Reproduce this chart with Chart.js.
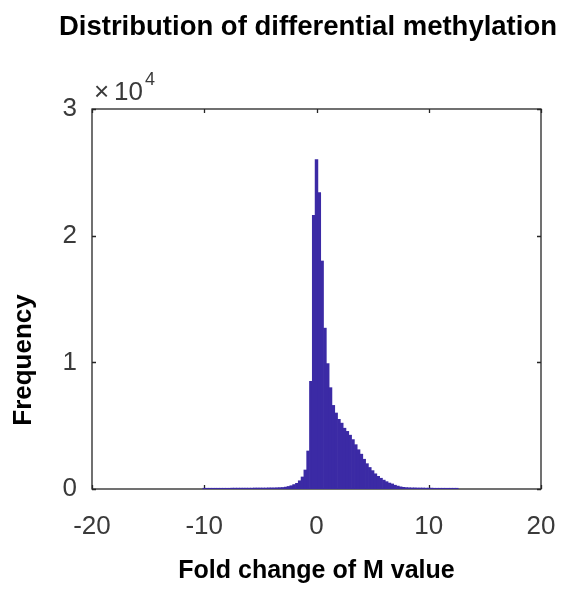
<!DOCTYPE html>
<html>
<head>
<meta charset="utf-8">
<script src="https://cdn.jsdelivr.net/npm/chart.js@4"></script>
<style>
  html, body { margin: 0; padding: 0; background: #fff; }
  #wrap { width: 565px; height: 593px; }
</style>
</head>
<body>
<div id="wrap"><canvas id="c" width="565" height="593"></canvas></div>
<script>
// ---- data ----
const binCenters = [
  -10.00, -9.75, -9.50, -9.25, -9.00, -8.75, -8.50, -8.25, -8.00, -7.75,
  -7.50, -7.25, -7.00, -6.75, -6.50, -6.25, -6.00, -5.75, -5.50, -5.25,
  -5.00, -4.75, -4.50, -4.25, -4.00, -3.75, -3.50, -3.25, -3.00, -2.75,
  -2.50, -2.25, -2.00, -1.75, -1.50, -1.25, -1.00, -0.75, -0.50, -0.25,
   0.00,  0.25,  0.50,  0.75,  1.00,  1.25,  1.50,  1.75,  2.00,  2.25,
   2.50,  2.75,  3.00,  3.25,  3.50,  3.75,  4.00,  4.25,  4.50,  4.75,
   5.00,  5.25,  5.50,  5.75,  6.00,  6.25,  6.50,  6.75,  7.00,  7.25,
   7.50,  7.75,  8.00,  8.25,  8.50,  8.75,  9.00,  9.25,  9.50,  9.75,
  10.00, 10.25, 10.50, 10.75, 11.00, 11.25, 11.50, 11.75, 12.00, 12.25,
  12.50
];
const frequency = [
   60,  60,  60,  60,  60,  60,  60,  60,  60,  60,
   70,  70,  70,  70,  70,  70,  70,  70,  80,  80,
   80,  80,  80,  90,  90,  90, 100, 110, 120, 150,
  200, 260, 350, 450, 650, 950, 1500, 3000, 8500, 21600,
  26000, 23400, 18000, 12700, 9900, 8000, 6600, 6000, 5500, 5200,
  4800, 4550, 4250, 3900, 3500, 3100, 2750, 2350, 2000, 1700,
  1450, 1200, 1000, 850, 700, 580, 470, 400, 300, 230,
  170, 130, 110, 100, 90, 90, 80, 80, 80, 70,
   70,  70,  60,  60,  60,  60,  60,  60,  60,  60,
   60
];
const xTicks = [-20, -10, 0, 10, 20];
const yTicks = [0, 10000, 20000, 30000];
const yTickLabels = ['0', '1', '2', '3'];
const titleText = 'Distribution of differential methylation';
const xLabel = 'Fold change of M value';
const yLabel = 'Frequency';
const exponentBase = '10';
const exponentPower = '4';

// ---- styles ----
const barColor = '#3b2aa5';
const axisColor = '#262626';
const tickColor = '#3a3a3a';
const tickFont = "'Liberation Sans', Arial, sans-serif";
const labelFont = "'Liberation Sans', Arial, sans-serif";

const points = binCenters.map((c, i) => ({ x: c, y: frequency[i] }));

const decor = {
  id: 'decor',
  beforeDatasetsDraw(chart) {
    const { ctx, chartArea: a, scales: { x, y } } = chart;
    ctx.save();
    ctx.strokeStyle = axisColor;
    ctx.lineWidth = 1.3;
    ctx.strokeRect(a.left, a.top, a.right - a.left, a.bottom - a.top);
    ctx.beginPath();
    xTicks.forEach(v => {
      const px = Math.round(x.getPixelForValue(v)) + 0.5;
      ctx.moveTo(px, a.bottom); ctx.lineTo(px, a.bottom - 4);
      ctx.moveTo(px, a.top); ctx.lineTo(px, a.top + 4);
    });
    yTicks.forEach(v => {
      const py = Math.round(y.getPixelForValue(v)) + 0.5;
      ctx.moveTo(a.left, py); ctx.lineTo(a.left + 4, py);
      ctx.moveTo(a.right, py); ctx.lineTo(a.right - 4, py);
    });
    ctx.stroke();
    ctx.restore();
  },
  afterDraw(chart) {
    const { ctx, chartArea: a } = chart;
    ctx.save();
    ctx.fillStyle = tickColor;
    ctx.textBaseline = 'alphabetic';
    ctx.textAlign = 'left';
    ctx.font = '26px ' + tickFont;
    ctx.fillText('\u00d7', a.left + 2, a.top - 9);
    ctx.fillText(exponentBase, a.left + 22, a.top - 9);
    const w = ctx.measureText(exponentBase).width;
    ctx.font = '18px ' + tickFont;
    ctx.fillText(exponentPower, a.left + 24 + w, a.top - 24);
    // y axis title
    ctx.fillStyle = '#000';
    ctx.font = 'bold 26px ' + labelFont;
    ctx.translate(24, 360);
    ctx.rotate(-Math.PI / 2);
    ctx.textAlign = 'center';
    ctx.textBaseline = 'middle';
    ctx.fillText(yLabel, 0, 0);
    ctx.restore();
  }
};

new Chart(document.getElementById('c'), {
  type: 'bar',
  data: {
    datasets: [{
      data: points,
      backgroundColor: barColor,
      borderWidth: 0,
      barPercentage: 1,
      categoryPercentage: 1,
      grouped: false
    }]
  },
  options: {
    responsive: false,
    animation: false,
    devicePixelRatio: 1,
    layout: { padding: { left: 0, right: 8, top: 0, bottom: 0 } },
    plugins: {
      legend: { display: false },
      tooltip: { enabled: false },
      title: {
        display: true,
        text: titleText,
        align: 'end',
        color: '#000',
        font: { family: labelFont, size: 27.5, weight: 'bold' },
        padding: { top: 11, bottom: 65 }
      }
    },
    scales: {
      x: {
        type: 'linear',
        offset: false,
        min: -20, max: 20,
        afterBuildTicks: s => { s.ticks = xTicks.map(v => ({ value: v })); },
        afterFit: s => { s.height = 104; s.paddingLeft = 0; s.paddingRight = 0; },
        grid: { display: false, drawTicks: false, offset: false },
        border: { display: false },
        ticks: {
          color: tickColor,
          padding: 22,
          maxRotation: 0,
          font: { family: tickFont, size: 26 }
        },
        title: {
          display: true,
          text: xLabel,
          color: '#000',
          font: { family: labelFont, size: 25, weight: 'bold' },
          padding: { top: 0, bottom: 7 }
        }
      },
      y: {
        type: 'linear',
        position: 'left',
        min: 0, max: 30000,
        afterBuildTicks: s => { s.ticks = yTicks.map(v => ({ value: v })); },
        afterFit: s => { s.width = 92; s.paddingTop = 0; s.paddingBottom = 0; },
        grid: { display: false, drawTicks: false },
        border: { display: false },
        ticks: {
          color: tickColor,
          padding: 15,
          font: { family: tickFont, size: 26 },
          callback: (v) => yTickLabels[yTicks.indexOf(v)]
        }
      },
      y2: {
        type: 'linear',
        position: 'right',
        display: true,
        afterFit: s => { s.width = 16; s.paddingTop = 0; s.paddingBottom = 0; },
        grid: { display: false, drawTicks: false },
        border: { display: false },
        ticks: { display: false }
      }
    }
  },
  plugins: [decor]
});
</script>
</body>
</html>
